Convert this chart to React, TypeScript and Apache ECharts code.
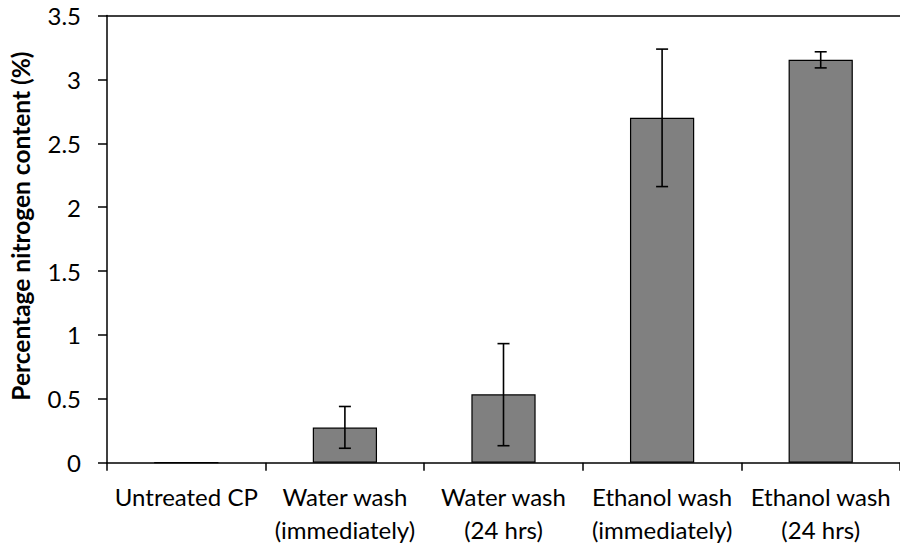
import React, { useEffect, useRef } from "react";
import * as echarts from "echarts";

const categories = [
  "Untreated CP",
  "Water wash\n(immediately)",
  "Water wash\n(24 hrs)",
  "Ethanol wash\n(immediately)",
  "Ethanol wash\n(24 hrs)",
];
const nitrogenValues = [0, 0.275, 0.535, 2.7, 3.153];
const errorLow = [null, 0.113, 0.133, 2.161, 3.09];
const errorHigh = [null, 0.44, 0.932, 3.237, 3.216];
const yTicks = [0, 0.5, 1, 1.5, 2, 2.5, 3, 3.5];

const FONT = "Lato, 'Liberation Sans', sans-serif";

export default function App() {
  const ref = useRef<HTMLDivElement>(null);
  useEffect(() => {
    const chart = echarts.init(ref.current!, null, { renderer: "svg" });
    const errData = categories
      .map((_, i) => (errorLow[i] == null ? null : [i, errorLow[i], errorHigh[i]]))
      .filter((d) => d !== null);
    chart.setOption({
      animation: false,
      grid: { left: 106, right: -4, top: 15.5, bottom: 84.3 },
      xAxis: [
        {
          type: "category",
          data: categories,
          axisLine: { lineStyle: { color: "#000", width: 1.5 } },
          axisTick: { show: true, length: 8, lineStyle: { color: "#000", width: 1.5 } },
          axisLabel: {
            color: "#000",
            fontFamily: FONT,
            fontSize: 24,
            lineHeight: 33,
            margin: 17,
            interval: 0,
          },
        },
        {
          type: "category",
          data: categories,
          position: "top",
          axisLine: { show: true, lineStyle: { color: "#000", width: 1.5 } },
          axisTick: { show: false },
          axisLabel: { show: false },
        },
      ],
      yAxis: {
        type: "value",
        min: yTicks[0],
        max: yTicks[yTicks.length - 1],
        interval: 0.5,
        name: "Percentage nitrogen content (%)",
        nameLocation: "middle",
        nameGap: 74,
        nameTextStyle: {
          color: "#000",
          fontFamily: FONT,
          fontSize: 24.5,
          fontWeight: "bold",
          padding: [0, 0, 0, 26],
        },
        axisLine: { show: true, lineStyle: { color: "#000", width: 1.5 } },
        axisTick: { show: true, length: 9, lineStyle: { color: "#000", width: 1.5 } },
        splitLine: { show: false },
        axisLabel: { color: "#000", fontFamily: FONT, fontSize: 24, margin: 26 },
      },
      series: [
        {
          type: "bar",
          data: nitrogenValues,
          barWidth: "40.5%",
          itemStyle: { color: "#808080", borderColor: "#000", borderWidth: 1.2 },
        },
        {
          type: "custom",
          data: errData,
          z: 10,
          renderItem: (params: any, api: any) => {
            const x = api.value(0);
            const lo = api.coord([x, api.value(1)]);
            const hi = api.coord([x, api.value(2)]);
            const cap = 6;
            const style = { stroke: "#000", lineWidth: 1.6 };
            return {
              type: "group",
              children: [
                { type: "line", shape: { x1: lo[0], y1: lo[1], x2: hi[0], y2: hi[1] }, style },
                { type: "line", shape: { x1: hi[0] - cap, y1: hi[1], x2: hi[0] + cap, y2: hi[1] }, style },
                { type: "line", shape: { x1: lo[0] - cap, y1: lo[1], x2: lo[0] + cap, y2: lo[1] }, style },
              ],
            };
          },
        },
      ],
    });
    return () => chart.dispose();
  }, []);
  return <div ref={ref} style={{ width: 900, height: 547, position: "absolute", left: 0, top: 0 }} />;
}
